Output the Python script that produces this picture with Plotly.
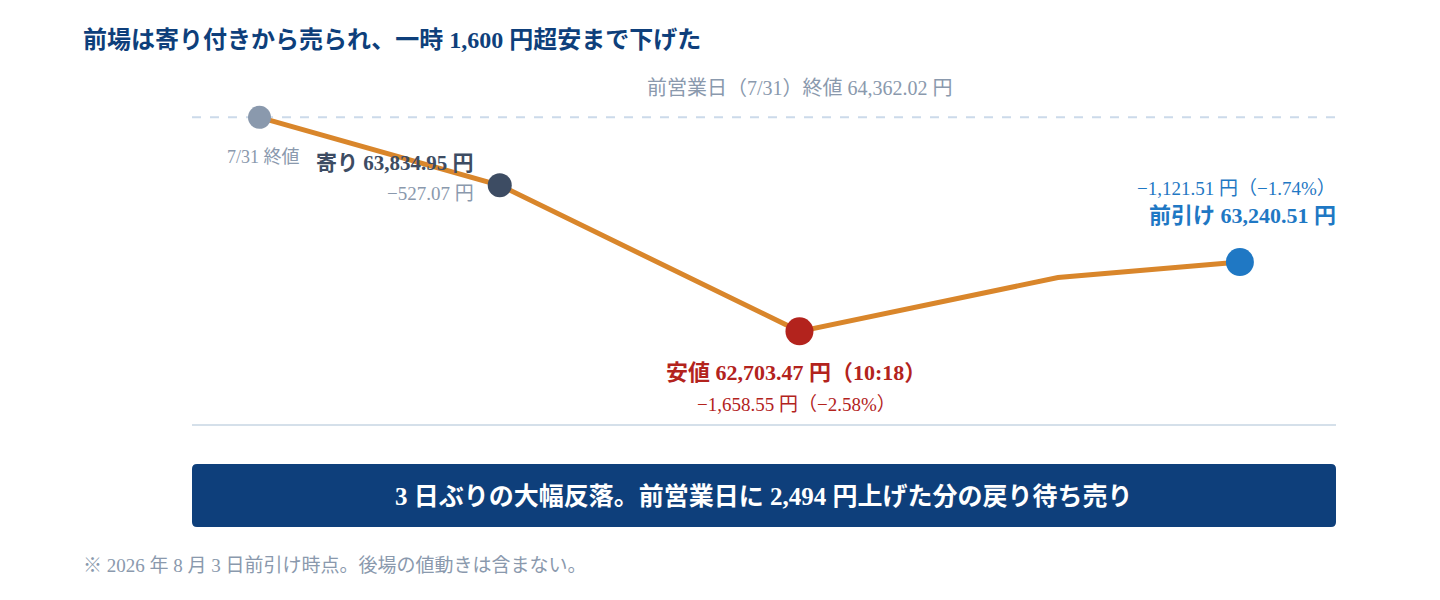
import plotly.graph_objects as go

# --- data ---
labels = ["7/31 終値", "寄り", "安値", "", "前引け"]
x_steps = [5.9, 26.9, 53.1, 75.7, 91.6]          # schematic horizontal steps (0-100)
prices = [64362.02, 63834.95, 62703.47, 63120.0, 63240.51]
prev_close = 64362.02
point_colors = ["#8a99ad", "#3d4c63", "#b3231d", "rgba(0,0,0,0)", "#1f78c4"]
point_sizes = [23, 24, 28, 0, 28]

OFF = 8                               # page body margin
W, H = 1440 - 2 * OFF, 600 - 2 * OFF
L, R, T, B = 192, 1336, 60, 424       # plot area in reference pixels
FONT = "Liberation Serif, Noto Sans CJK JP, serif"
NAVY = "#0e3f7b"
GRAY = "#8a99ad"


def px(x, y):
    return (x - L) / (R - L), (B - y) / (B - T)


fig = go.Figure()
fig.add_trace(go.Scatter(
    x=x_steps, y=prices, mode="lines",
    line=dict(color="#d9862b", width=5),
    hoverinfo="skip",
))
fig.add_trace(go.Scatter(
    x=x_steps, y=prices, mode="markers",
    marker=dict(color=point_colors, size=point_sizes, opacity=1, line=dict(width=0)),
    hoverinfo="skip",
))

# previous close reference line
fig.add_shape(type="line", xref="x", yref="y", x0=0, x1=100, y0=prev_close, y1=prev_close,
              line=dict(color="#ccdaea", width=2, dash="dash"), layer="below")


def note(x, y, text, color, size, bold=False, anchor="center"):
    xp, yp = px(x, y)
    if bold:
        text = "<b>" + text + "</b>"
    fig.add_annotation(xref="paper", yref="paper", x=xp, y=yp, text=text, showarrow=False,
                       xanchor=anchor, yanchor="middle",
                       font=dict(family=FONT, size=size, color=color))


note(800, 88, "前営業日（7/31）終値 64,362.02 円", GRAY, 20)
note(302, 157, "7/31 終値", GRAY, 18, anchor="right")
note(476, 163, "寄り 63,834.95 円", "#3d4c63", 21, bold=True, anchor="right")
note(476, 193, "−527.07 円", GRAY, 19, anchor="right")
note(796, 372, "安値 62,703.47 円（10:18）", "#b3231d", 22, bold=True)
note(796, 404, "−1,658.55 円（−2.58%）", "#b3231d", 19)
note(1338, 188, "−1,121.51 円（−1.74%）", "#1f78c4", 19, anchor="right")
note(1338, 215, "前引け 63,240.51 円", "#1f78c4", 22, bold=True, anchor="right")

# title
note(81, 40, "前場は寄り付きから売られ、一時 1,600 円超安まで下げた", NAVY, 24, bold=True, anchor="left")

# banner with rounded corners
x0, y0 = px(192, 527)
x1, y1 = px(1336, 464)
rx, ry = 5 / (R - L), 5 / (B - T)
path = (f"M {x0 + rx},{y0} L {x1 - rx},{y0} Q {x1},{y0} {x1},{y0 + ry} "
        f"L {x1},{y1 - ry} Q {x1},{y1} {x1 - rx},{y1} "
        f"L {x0 + rx},{y1} Q {x0},{y1} {x0},{y1 - ry} "
        f"L {x0},{y0 + ry} Q {x0},{y0} {x0 + rx},{y0} Z")
fig.add_shape(type="path", xref="paper", yref="paper", path=path,
              fillcolor=NAVY, line=dict(width=0))
note(764, 496, "3 日ぶりの大幅反落。前営業日に 2,494 円上げた分の戻り待ち売り", "#ffffff", 25, bold=True)

# footnote
note(81, 565, "※ 2026 年 8 月 3 日前引け時点。後場の値動きは含まない。", GRAY, 19, anchor="left")

fig.update_layout(
    width=W, height=H,
    margin=dict(l=L - OFF, r=W - (R - OFF), t=T - OFF, b=H - (B - OFF)),
    paper_bgcolor="#ffffff", plot_bgcolor="#ffffff",
    showlegend=False,
    xaxis=dict(range=[0, 100], showgrid=False, zeroline=False, showticklabels=False,
               showline=True, linecolor="#d5e0ea", linewidth=2, fixedrange=True),
    yaxis=dict(range=[61985.4, 64806.0], showgrid=False, zeroline=False, showticklabels=False,
               fixedrange=True),
)

fig.write_html("out.html", config={"displayModeBar": False})
